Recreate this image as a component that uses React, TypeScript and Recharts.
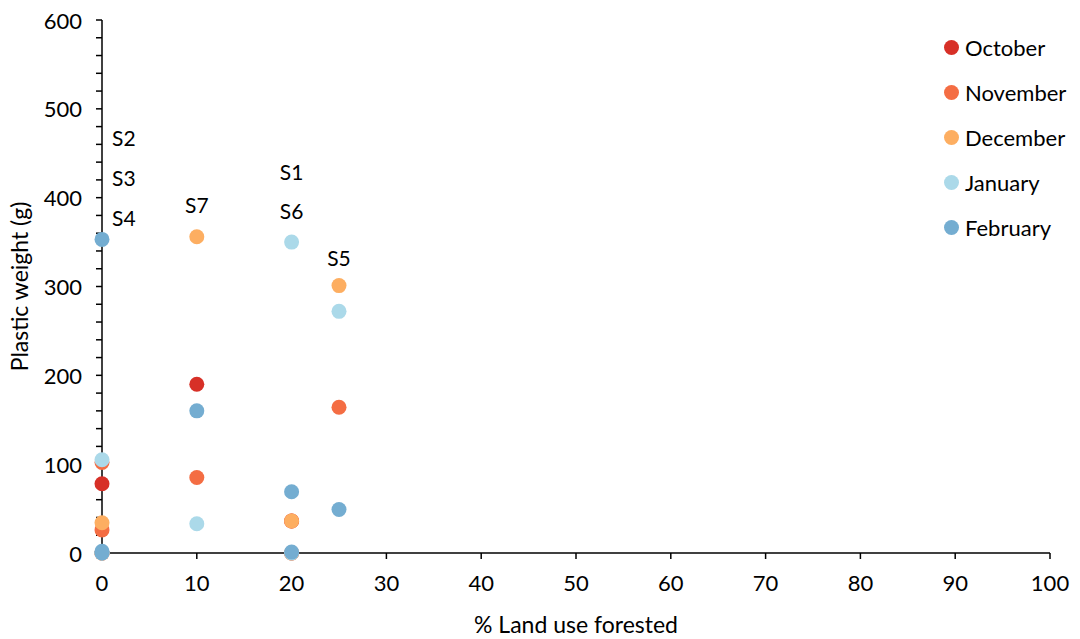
import React from 'react';
import {
  ScatterChart,
  Scatter,
  XAxis,
  YAxis,
} from 'recharts';

// sites and their % forested land use
const sites = ['S2', 'S3', 'S4', 'S7', 'S1', 'S6', 'S5'];
const forested = [0, 0, 0, 10, 20, 20, 25];

// plastic weight (g) per site, same order as sites
const october = [78, 0, 0, 190, 36, 0, null];
const november = [102, 26, 0, 85, 36, 0, 164];
const december = [34, 0, 0, 356, 36, 0, 301];
const january = [105, 0, 0, 33, 350, 0, 272];
const february = [353, 2, 0, 160, 69, 1, 49];

const months = ['October', 'November', 'December', 'January', 'February'];
const colors = ['#d73027', '#f46d43', '#fdae61', '#abd9e9', '#74add1'];

// site labels, placed in data units
const labelNames = ['S2', 'S3', 'S4', 'S7', 'S1', 'S6', 'S5'];
const labelX = [2.3, 2.3, 2.3, 10, 20, 20, 25];
const labelY = [468, 423, 378, 392, 429, 385, 333];

const xTicks = [0, 10, 20, 30, 40, 50, 60, 70, 80, 90, 100];
const yTicks = Array.from({ length: 31 }, (_, i) => i * 20);

const FONT = 'Lato, "Open Sans", sans-serif';

const toPoints = (vals: (number | null)[]) =>
  vals
    .map((v, i) => (v === null ? null : { x: forested[i], y: v, site: sites[i] }))
    .filter((p) => p !== null);

const series = [october, november, december, january, february];

const labels = labelNames.map((n, i) => ({ x: labelX[i], y: labelY[i], name: n }));

const YTick = (props: any) => {
  const { x, y, payload } = props;
  if (payload.value % 100 !== 0) return null;
  return (
    <text x={x} y={y} textAnchor="end" dominantBaseline="central" fontSize={22} fill="#000" fontFamily={FONT}>
      {payload.value}
    </text>
  );
};

const Dot = (color: string) => (props: any) => (
  <circle cx={props.cx} cy={props.cy} r={7.5} fill={color} />
);

const SiteLabel = (props: any) => (
  <text
    x={props.cx}
    y={props.cy}
    textAnchor="middle"
    dominantBaseline="central"
    fontSize={21}
    fill="#000"
    fontFamily={FONT}
  >
    {props.payload.name}
  </text>
);

const LegendBox = () => (
  <div
    style={{
      position: 'absolute',
      left: 944,
      top: 25,
      fontFamily: FONT,
      fontSize: 22,
      color: '#000',
    }}
  >
    {months.map((m, i) => (
      <div key={m} style={{ height: 45, display: 'flex', alignItems: 'center' }}>
        <span
          style={{
            display: 'inline-block',
            width: 15,
            height: 15,
            borderRadius: '50%',
            background: colors[i],
            marginRight: 6,
          }}
        />
        {m}
      </div>
    ))}
  </div>
);

export default function App() {
  return (
    <div style={{ position: 'absolute', left: 0, top: 0, width: 1080, height: 639, background: '#fff' }}>
      <ScatterChart width={1080} height={639} margin={{ top: 20, right: 30, left: 0, bottom: 0 }}>
        <XAxis
          type="number"
          dataKey="x"
          domain={[0, 100]}
          ticks={xTicks}
          interval={0}
          stroke="#000"
          strokeWidth={1.5}
          tickSize={6}
          tickMargin={16}
          tick={{ fontSize: 22, fill: '#000', fontFamily: FONT }}
          height={86}
          label={{
            value: '% Land use forested',
            position: 'insideBottom',
            offset: 6,
            style: { fontSize: 23, fill: '#000', fontFamily: FONT },
          }}
        />
        <YAxis
          type="number"
          dataKey="y"
          domain={[0, 600]}
          ticks={yTicks}
          interval={0}
          stroke="#000"
          strokeWidth={1.5}
          tickSize={6}
          tickMargin={14}
          tick={<YTick />}
          width={102}
          label={{
            value: 'Plastic weight (g)',
            angle: -90,
            position: 'insideLeft',
            offset: 20,
            style: { fontSize: 23, fill: '#000', fontFamily: FONT, textAnchor: 'middle' },
          }}
        />
        <Scatter
          name="labels"
          data={labels}
          shape={SiteLabel}
          legendType="none"
          isAnimationActive={false}
        />
        {series.map((vals, i) => (
          <Scatter
            key={months[i]}
            name={months[i]}
            data={toPoints(vals)}
            fill={colors[i]}
            shape={Dot(colors[i])}
            isAnimationActive={false}
          />
        ))}
      </ScatterChart>
      <LegendBox />
    </div>
  );
}
